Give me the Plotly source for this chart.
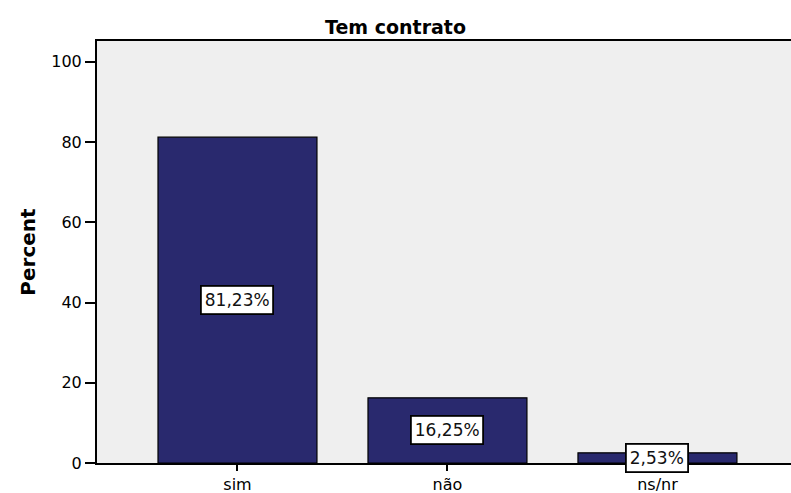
import plotly.graph_objects as go

categorias = ["sim", "não", "ns/nr"]
percentuais = [81.23, 16.25, 2.53]
rotulos = ["81,23%", "16,25%", "2,53%"]

fonte = "DejaVu Sans, Arial, sans-serif"

fig = go.Figure()
fig.add_trace(
    go.Bar(
        x=categorias,
        y=percentuais,
        width=0.757,
        marker=dict(color="#29296E", line=dict(color="black", width=1.2)),
        showlegend=False,
    )
)

# rótulos de percentagem em caixas brancas no meio de cada barra
for cat, val, txt in zip(categorias, percentuais, rotulos):
    fig.add_annotation(
        x=cat,
        y=val / 2,
        text=txt,
        showarrow=False,
        font=dict(family=fonte, size=17, color="#111111"),
        bgcolor="white",
        bordercolor="black",
        borderwidth=1.8,
        borderpad=3,
    )

fig.update_layout(
    width=791,
    height=493,
    margin=dict(l=97, r=0, t=41, b=30),
    paper_bgcolor="white",
    plot_bgcolor="#EFEFEF",
    font=dict(family=fonte, size=16, color="black"),
    title=dict(
        text="<b>Tem contrato</b>",
        x=0.5,
        xref="container",
        xanchor="center",
        y=0.945,
        yref="container",
        yanchor="middle",
        font=dict(size=19),
    ),
)
fig.update_xaxes(
    range=[-0.669, 2.636],
    automargin=False,
    showline=True,
    linecolor="black",
    linewidth=2,
    mirror=True,
    ticks="outside",
    ticklen=6,
    tickwidth=2,
    tickcolor="black",
    showgrid=False,
    tickfont=dict(size=16),
)
fig.update_yaxes(
    range=[0, 105.2],
    automargin=False,
    tickvals=[0, 20, 40, 60, 80, 100],
    showline=True,
    linecolor="black",
    linewidth=2,
    ticks="outside",
    ticklen=10,
    tickwidth=2,
    tickcolor="black",
    showgrid=False,
    zeroline=False,
    tickfont=dict(size=16),
    title=dict(text="<b>Percent</b>", font=dict(size=20), standoff=10),
)

fig.write_html(
    "out.html",
    config={"displayModeBar": False},
    post_script="document.body.style.margin='0';",
)
